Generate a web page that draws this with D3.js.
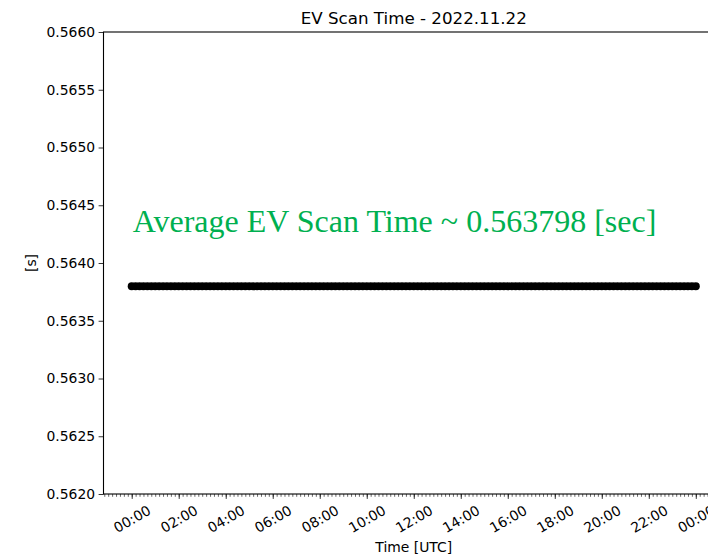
<!DOCTYPE html>
<html>
<head>
<meta charset="utf-8">
<script src="https://cdn.jsdelivr.net/npm/d3@7"></script>
<style>
  body { margin: 0; background: #fff; overflow: hidden; }
  svg { display: block; font-family: "DejaVu Sans", sans-serif; }
</style>
</head>
<body>
<div id="chart"></div>
<script>
// chart data
const chartTitle = "EV Scan Time - 2022.11.22";
const dayStart = "2022-11-22T00:00:00Z";
const sampleStepMinutes = 10;
// scan time [s], one reading per 10 minutes from 00:00 to 24:00 UTC
const scanTimes = [
  0.563798, 0.563798, 0.563798, 0.563798, 0.563798, 0.563798, 0.563798, 0.563798, 0.563798, 0.563798, 0.563798, 0.563798,
  0.563798, 0.563798, 0.563798, 0.563798, 0.563798, 0.563798, 0.563798, 0.563798, 0.563798, 0.563798, 0.563798, 0.563798,
  0.563798, 0.563798, 0.563798, 0.563798, 0.563798, 0.563798, 0.563798, 0.563798, 0.563798, 0.563798, 0.563798, 0.563798,
  0.563798, 0.563798, 0.563798, 0.563798, 0.563798, 0.563798, 0.563798, 0.563798, 0.563798, 0.563798, 0.563798, 0.563798,
  0.563798, 0.563798, 0.563798, 0.563798, 0.563798, 0.563798, 0.563798, 0.563798, 0.563798, 0.563798, 0.563798, 0.563798,
  0.563798, 0.563798, 0.563798, 0.563798, 0.563798, 0.563798, 0.563798, 0.563798, 0.563798, 0.563798, 0.563798, 0.563798,
  0.563798, 0.563798, 0.563798, 0.563798, 0.563798, 0.563798, 0.563798, 0.563798, 0.563798, 0.563798, 0.563798, 0.563798,
  0.563798, 0.563798, 0.563798, 0.563798, 0.563798, 0.563798, 0.563798, 0.563798, 0.563798, 0.563798, 0.563798, 0.563798,
  0.563798, 0.563798, 0.563798, 0.563798, 0.563798, 0.563798, 0.563798, 0.563798, 0.563798, 0.563798, 0.563798, 0.563798,
  0.563798, 0.563798, 0.563798, 0.563798, 0.563798, 0.563798, 0.563798, 0.563798, 0.563798, 0.563798, 0.563798, 0.563798,
  0.563798, 0.563798, 0.563798, 0.563798, 0.563798, 0.563798, 0.563798, 0.563798, 0.563798, 0.563798, 0.563798, 0.563798,
  0.563798, 0.563798, 0.563798, 0.563798, 0.563798, 0.563798, 0.563798, 0.563798, 0.563798, 0.563798, 0.563798, 0.563798,
  0.563798
];
const averageLabel = "Average EV Scan Time ~ 0.563798 [sec]";
const yTicks = [0.5620, 0.5625, 0.5630, 0.5635, 0.5640, 0.5645, 0.5650, 0.5655, 0.5660];
const yDomain = [0.5620, 0.5660];

const width = 708, height = 556;
// plot box (right side runs past the window, like the reference)
const plotLeft = 103.5, plotRight = 724, plotTop = 32, plotBottom = 494;

const t0 = new Date(dayStart);
const points = scanTimes.map((v, i) => ({
  t: d3.utcMinute.offset(t0, i * sampleStepMinutes),
  v: v
}));

// matplotlib style 5% margins on x
const tExt = d3.extent(points, d => d.t);
const pad = (tExt[1] - tExt[0]) * 0.05;

const x = d3.scaleUtc()
  .domain([new Date(+tExt[0] - pad), new Date(+tExt[1] + pad)])
  .range([plotLeft, plotRight]);

const y = d3.scaleLinear()
  .domain(yDomain)
  .range([plotBottom, plotTop]);

const svg = d3.select("#chart").append("svg")
  .attr("width", width)
  .attr("height", height);

// minor ticks every 10 minutes
svg.append("g")
  .attr("transform", "translate(0," + plotBottom + ")")
  .call(d3.axisBottom(x).ticks(d3.utcMinute.every(10)).tickSize(2.8).tickFormat(""))
  .call(g => g.select(".domain").remove())
  .call(g => g.selectAll("line").attr("stroke", "#000").attr("stroke-width", 0.6));

// major ticks every 2 hours
svg.append("g")
  .attr("transform", "translate(0," + plotBottom + ")")
  .call(d3.axisBottom(x).ticks(d3.utcHour.every(2)).tickSize(4.9).tickFormat(d3.utcFormat("%H:%M")))
  .call(g => g.select(".domain").remove())
  .call(g => g.selectAll("line").attr("stroke", "#000").attr("stroke-width", 0.8))
  .call(g => g.selectAll("text")
    .attr("font-size", "13.9px")
    .attr("font-family", "DejaVu Sans")
    .attr("fill", "#000")
    .attr("text-anchor", "middle")
    .attr("dy", "0.35em")
    .attr("y", 0)
    .attr("transform", "translate(0,25) rotate(-30)"));

// y axis
svg.append("g")
  .attr("transform", "translate(" + plotLeft + ",0)")
  .call(d3.axisLeft(y).tickValues(yTicks).tickSize(4.9).tickPadding(3.5).tickFormat(d3.format(".4f")))
  .call(g => g.select(".domain").remove())
  .call(g => g.selectAll("line").attr("stroke", "#000").attr("stroke-width", 0.8))
  .call(g => g.selectAll("text")
    .attr("font-size", "13.9px")
    .attr("font-family", "DejaVu Sans")
    .attr("fill", "#000"));

// frame
svg.append("rect")
  .attr("x", plotLeft)
  .attr("y", plotTop)
  .attr("width", plotRight - plotLeft)
  .attr("height", plotBottom - plotTop)
  .attr("fill", "none")
  .attr("stroke", "#000")
  .attr("stroke-width", 1.1);

// data markers
svg.append("g")
  .selectAll("circle")
  .data(points)
  .enter()
  .append("circle")
  .attr("cx", d => x(d.t))
  .attr("cy", d => y(d.v))
  .attr("r", 4)
  .attr("fill", "#000");

// annotation
svg.append("text")
  .attr("x", x(points[0].t) + 1)
  .attr("y", 232)
  .attr("font-family", "Liberation Serif")
  .attr("font-size", "32px")
  .attr("fill", "#00b050")
  .text(averageLabel);

// title
svg.append("text")
  .attr("x", (plotLeft + plotRight) / 2)
  .attr("y", 24)
  .attr("text-anchor", "middle")
  .attr("font-size", "16.7px")
  .attr("fill", "#000")
  .text(chartTitle);

// axis labels
svg.append("text")
  .attr("x", (plotLeft + plotRight) / 2)
  .attr("y", 552)
  .attr("text-anchor", "middle")
  .attr("font-size", "13.9px")
  .attr("fill", "#000")
  .text("Time [UTC]");

svg.append("text")
  .attr("transform", "translate(36," + ((plotTop + plotBottom) / 2) + ") rotate(-90)")
  .attr("text-anchor", "middle")
  .attr("font-size", "13.9px")
  .attr("fill", "#000")
  .text("[s]");
</script>
</body>
</html>
